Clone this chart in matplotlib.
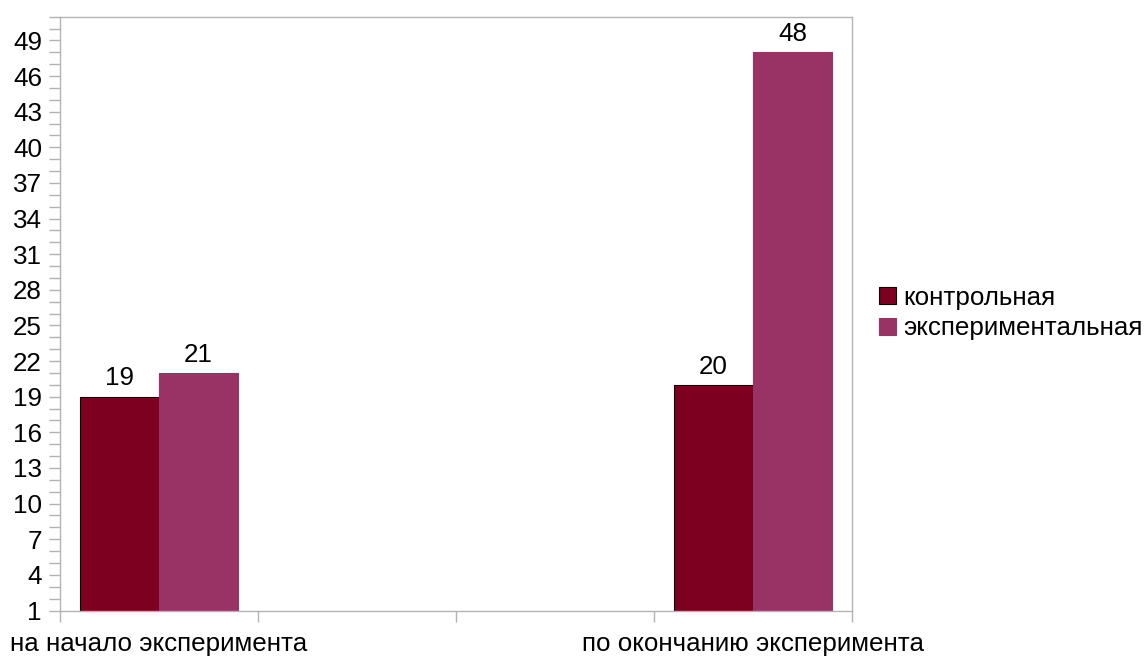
import numpy as np
import matplotlib
matplotlib.use("Agg")
import matplotlib.pyplot as plt
from matplotlib.patches import Patch
from matplotlib.ticker import MultipleLocator, FixedLocator

plt.rcParams['font.family'] = ['Liberation Sans', 'DejaVu Sans']

categories = ["на начало эксперимента", "", "", "по окончанию эксперимента"]
series_names = ["контрольная", "экспериментальная"]
control = [19, np.nan, np.nan, 20]
experimental = [21, np.nan, np.nan, 48]
colors = ["#7e0021", "#993366"]

FS = 18.7
GRAY = "#b3b3b3"

fig = plt.figure(figsize=(11.44, 6.57), dpi=100)
ax = fig.add_axes([60/1144, 1-610.5/657, (852-60)/1144, (610.5-16.7)/657])

x = np.arange(len(categories))
w = 0.4
b1 = ax.bar(x - w/2, control, w, color=colors[0], edgecolor="black", linewidth=0.8, zorder=2)
b2 = ax.bar(x + w/2, experimental, w, color=colors[1], edgecolor=colors[1], linewidth=0.8, zorder=2)

lab1 = ["" if np.isnan(v) else f"{int(v)}" for v in control]
lab2 = ["" if np.isnan(v) else f"{int(v)}" for v in experimental]
ax.bar_label(b1, labels=lab1, padding=4.5, fontsize=FS)
ax.bar_label(b2, labels=lab2, padding=4.5, fontsize=FS)

ax.set_xlim(-0.5, len(categories) - 0.5)
ax.set_ylim(1, 51)

ax.yaxis.set_major_locator(FixedLocator(np.arange(1, 50, 3)))
ax.yaxis.set_minor_locator(MultipleLocator(1))
ax.tick_params(axis='y', which='both', length=8, width=1, color=GRAY, pad=5, labelsize=FS)

ax.set_xticks(x)
ax.set_xticklabels(categories)
ax.xaxis.set_minor_locator(FixedLocator(np.arange(-0.5, len(categories), 1)))
ax.tick_params(axis='x', which='major', length=0, pad=15.5, labelsize=FS)
ax.tick_params(axis='x', which='minor', length=8, width=1, color=GRAY)

for s in ax.spines.values():
    s.set_color(GRAY)
    s.set_linewidth(1)

handles = [Patch(facecolor=colors[0], edgecolor="black", linewidth=0.8),
           Patch(facecolor=colors[1], edgecolor=colors[1], linewidth=0.8)]
fig.legend(handles, series_names, loc='center left', bbox_to_anchor=(879/1144, 1-313/657),
           frameon=False, fontsize=FS, handlelength=0.64, handleheight=0.64,
           handletextpad=0.3, labelspacing=0.25, borderpad=0, borderaxespad=0)

fig.savefig("out.png", dpi=100)
